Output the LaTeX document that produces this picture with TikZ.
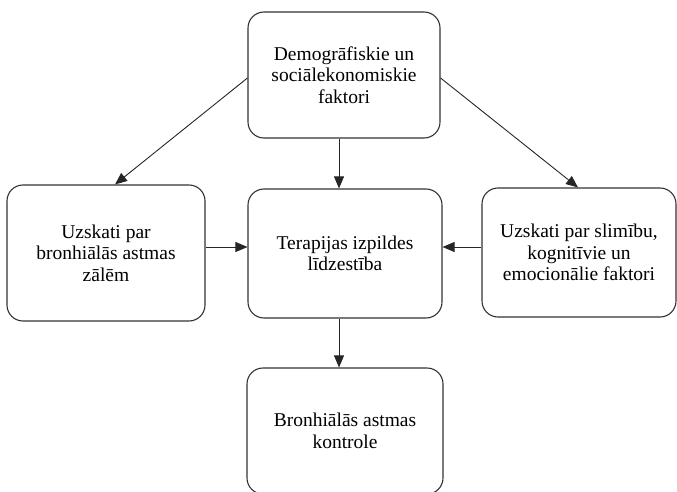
\documentclass[tikz,border=0pt]{standalone}
\usepackage{fontspec}
\setmainfont{Liberation Serif}
\usetikzlibrary{arrows.meta}
\begin{document}
\begin{tikzpicture}[x=1pt,y=1pt,
  box/.style={draw=black!80, line width=1.1pt, rounded corners=16pt, align=center,
    font=\fontsize{19.5}{21.5}\selectfont, inner sep=0pt},
  arr/.style={draw=black!85, line width=0.9pt, -{Triangle[length=12pt,width=10pt]}}]
\useasboundingbox (0,0) rectangle (677,491);
\node[box, minimum width=192pt, minimum height=126pt] (top) at (344,416) {Demogrāfiskie un\\sociālekonomiskie\\faktori};
\node[box, minimum width=198pt, minimum height=136pt] (left) at (106,238) {Uzskati par\\bronhiālās astmas\\zālēm};
\node[box, minimum width=194pt, minimum height=129pt] (center) at (345,237.5) {Terapijas izpildes\\līdzestība};
\node[box, minimum width=194pt, minimum height=129pt] (right) at (579,238.5) {Uzskati par slimību,\\kognitīvie un\\emocionālie faktori};
\node[box, minimum width=196pt, minimum height=126pt] (bottom) at (345,60) {Bronhiālās astmas\\kontrole};
\coordinate (vx) at (339,0);
\coordinate (hy) at (0,244);
\draw[arr] ([yshift=-3pt]top.west) -- ([xshift=9pt]left.north);
\draw[arr] ([yshift=-3pt]top.east) -- ([xshift=-1pt]right.north);
\draw[arr] (top.south -| vx) -- (center.north -| vx);
\draw[arr] (left.east |- hy) -- (center.west |- hy);
\draw[arr] (right.west |- hy) -- (center.east |- hy);
\draw[arr] (center.south -| vx) -- (bottom.north -| vx);
\end{tikzpicture}
\end{document}
